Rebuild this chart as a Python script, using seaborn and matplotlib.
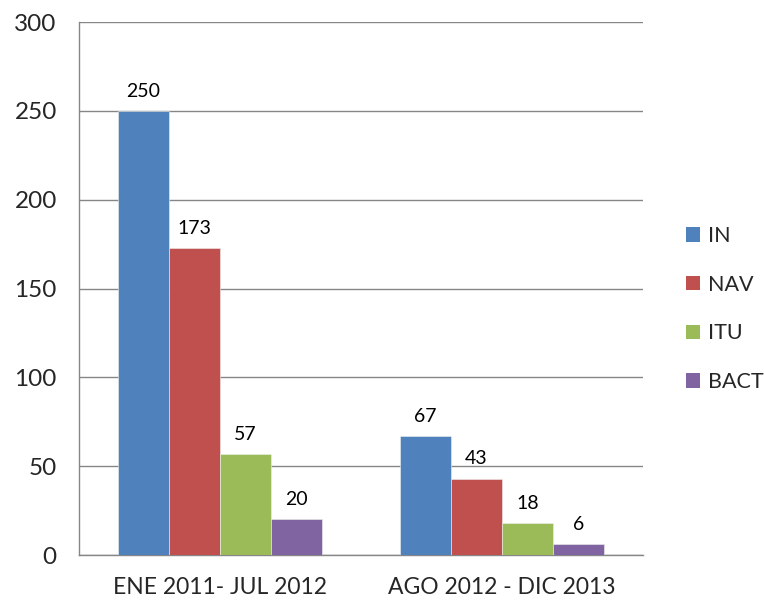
import matplotlib
matplotlib.use("Agg")
import matplotlib.pyplot as plt
from matplotlib.patches import Patch
import seaborn as sns
import pandas as pd

# Data
periodos = ["ENE 2011- JUL 2012", "AGO 2012 - DIC 2013"]
series = ["IN", "NAV", "ITU", "BACT"]
in_vals = [250, 67]
nav_vals = [173, 43]
itu_vals = [57, 18]
bact_vals = [20, 6]
colores = ["#4F81BD", "#C0504D", "#9BBB59", "#8064A2"]
y_ticks = [0, 50, 100, 150, 200, 250, 300]

rows = []
for serie, vals in zip(series, [in_vals, nav_vals, itu_vals, bact_vals]):
    for p, v in zip(periodos, vals):
        rows.append({"periodo": p, "serie": serie, "valor": v})
df = pd.DataFrame(rows)

sns.set_theme(style="white")
plt.rcParams["font.family"] = ["Lato", "DejaVu Sans"]

fig = plt.figure(figsize=(7.64, 6.0), dpi=100)
ax = fig.add_axes([0.1034, 0.075, 0.7382, 0.8883])

sns.barplot(data=df, x="periodo", y="valor", hue="serie", order=periodos,
            hue_order=series, palette=colores, width=0.7234, saturation=1,
            edgecolor="#f0f0f0", linewidth=0.4, legend=False, ax=ax, zorder=3)

for cont in ax.containers:
    ax.bar_label(cont, fmt="%d", padding=8, fontsize=14, color="black")

ax.set_xlim(-0.5, 1.5)
ax.set_ylim(0, 300)
ax.set_yticks(y_ticks)
ax.set_yticklabels([str(t) for t in y_ticks], fontsize=17.5)
ax.tick_params(axis="x", which="major", length=0, labelsize=16.5, pad=16)
ax.set_xticks([-0.5, 0.5, 1.5], minor=True)
ax.tick_params(axis="x", which="minor", length=6, width=1, color="#868686", direction="out")
ax.tick_params(axis="y", length=6, width=1, color="#868686", direction="out", pad=10)
ax.set_xlabel("")
ax.set_ylabel("")

ax.yaxis.grid(True, color="#868686", linewidth=1)
ax.set_axisbelow(True)
for side in ["top", "right"]:
    ax.spines[side].set_visible(False)
for side in ["left", "bottom"]:
    ax.spines[side].set_color("#868686")
    ax.spines[side].set_linewidth(1)

handles = [Patch(facecolor=c, edgecolor="none", label=s) for c, s in zip(colores, series)]
fig.legend(handles=handles, loc="center left", bbox_to_anchor=(0.898, 0.485),
           frameon=False, fontsize=15.5, handlelength=0.65, handleheight=0.65,
           handletextpad=0.37, labelspacing=1.33, borderpad=0, borderaxespad=0)

fig.savefig("out.png", dpi=100)
